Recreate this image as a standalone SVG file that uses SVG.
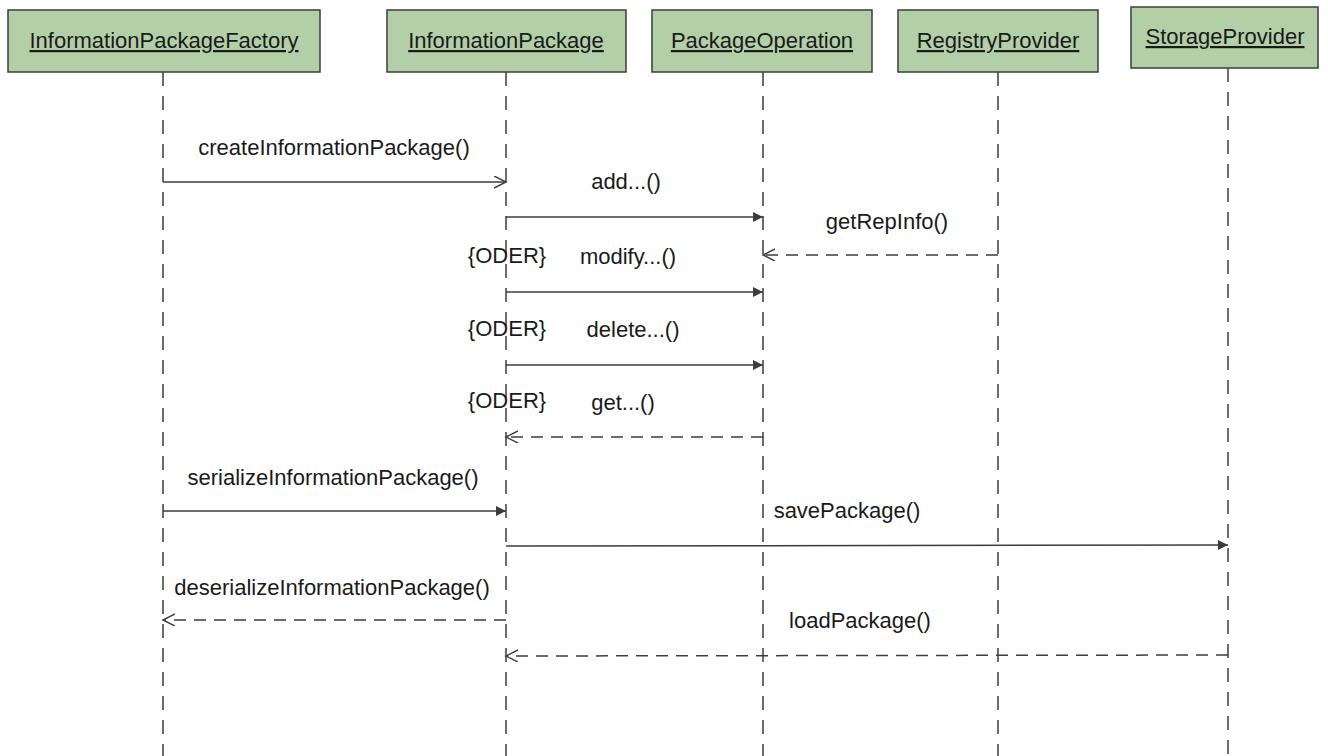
<svg xmlns="http://www.w3.org/2000/svg" width="1328" height="756" viewBox="0 0 1328 756">
  <style>
    .box { fill: #b2cfa8; stroke: #3c3c3c; stroke-width: 1.5; }
    .name { font-family: "Liberation Sans", Arial, sans-serif; font-size: 22px; fill: #1a1a1a; text-decoration: underline; text-anchor: middle; }
    .life { stroke: #3c3c3c; stroke-width: 1.5; stroke-dasharray: 14 10; fill: none; }
    .msg { stroke: #3c3c3c; stroke-width: 1.5; fill: none; }
    .ret { stroke: #3c3c3c; stroke-width: 1.5; fill: none; stroke-dasharray: 12 8; }
    .lbl { font-family: "Liberation Sans", Arial, sans-serif; font-size: 22px; fill: #1a1a1a; text-anchor: middle; }
  </style>
  <defs>
    <marker id="filled" markerWidth="12" markerHeight="12" refX="10" refY="5" orient="auto" markerUnits="userSpaceOnUse">
      <path d="M0,0 L10,5 L0,10 Z" fill="#3c3c3c"/>
    </marker>
    <marker id="open" markerWidth="14" markerHeight="14" refX="12" refY="6" orient="auto" markerUnits="userSpaceOnUse">
      <path d="M0,0 L12,6 L0,12" fill="none" stroke="#3c3c3c" stroke-width="1.5"/>
    </marker>
  </defs>

  <rect width="1328" height="756" fill="#ffffff"/>

  <!-- lifelines -->
  <g id="lifelines">
    <line class="life" x1="163" y1="72" x2="163" y2="756"/>
    <line class="life" x1="506" y1="72" x2="506" y2="756"/>
    <line class="life" x1="763" y1="72" x2="763" y2="756"/>
    <line class="life" x1="998" y1="72" x2="998" y2="756"/>
    <line class="life" x1="1228" y1="68" x2="1228" y2="756"/>
  </g>

  <!-- participants -->
  <g id="factory">
    <rect class="box" x="8" y="10" width="312" height="62"/>
    <text class="name" x="164" y="48">InformationPackageFactory</text>
  </g>
  <g id="package">
    <rect class="box" x="387" y="10" width="239" height="62"/>
    <text class="name" x="506" y="48">InformationPackage</text>
  </g>
  <g id="operation">
    <rect class="box" x="652" y="10" width="220" height="62"/>
    <text class="name" x="762" y="48">PackageOperation</text>
  </g>
  <g id="registry">
    <rect class="box" x="898" y="10" width="200" height="62"/>
    <text class="name" x="998" y="48">RegistryProvider</text>
  </g>
  <g id="storage">
    <rect class="box" x="1131" y="7" width="187" height="61"/>
    <text class="name" x="1225" y="44">StorageProvider</text>
  </g>

  <!-- messages -->
  <g id="connectors">
    <line class="msg" x1="163" y1="182" x2="506" y2="182" marker-end="url(#open)"/>
    <line class="msg" x1="506" y1="217" x2="763" y2="217" marker-end="url(#filled)"/>
    <line class="ret" x1="998" y1="255" x2="763" y2="255" marker-end="url(#open)"/>
    <line class="msg" x1="506" y1="292" x2="763" y2="292" marker-end="url(#filled)"/>
    <line class="msg" x1="506" y1="365" x2="763" y2="365" marker-end="url(#filled)"/>
    <line class="ret" x1="763" y1="437" x2="506" y2="437" marker-end="url(#open)"/>
    <line class="msg" x1="163" y1="511" x2="506" y2="511" marker-end="url(#filled)"/>
    <line class="msg" x1="506" y1="546" x2="1228" y2="545" marker-end="url(#filled)"/>
    <line class="ret" x1="506" y1="620" x2="163" y2="620" marker-end="url(#open)"/>
    <line class="ret" x1="1228" y1="655" x2="506" y2="656" marker-end="url(#open)"/>
  </g>

  <!-- message labels -->
  <g id="labels">
    <text class="lbl" x="334" y="155">createInformationPackage()</text>
    <text class="lbl" x="626" y="189">add...()</text>
    <text class="lbl" x="887" y="229">getRepInfo()</text>
    <text class="lbl" x="507" y="263">{ODER}</text>
    <text class="lbl" x="628" y="264">modify...()</text>
    <text class="lbl" x="507" y="336">{ODER}</text>
    <text class="lbl" x="633" y="337">delete...()</text>
    <text class="lbl" x="507" y="408">{ODER}</text>
    <text class="lbl" x="623" y="410">get...()</text>
    <text class="lbl" x="333" y="485">serializeInformationPackage()</text>
    <text class="lbl" x="847" y="518">savePackage()</text>
    <text class="lbl" x="332" y="595">deserializeInformationPackage()</text>
    <text class="lbl" x="860" y="628">loadPackage()</text>
  </g>
</svg>
